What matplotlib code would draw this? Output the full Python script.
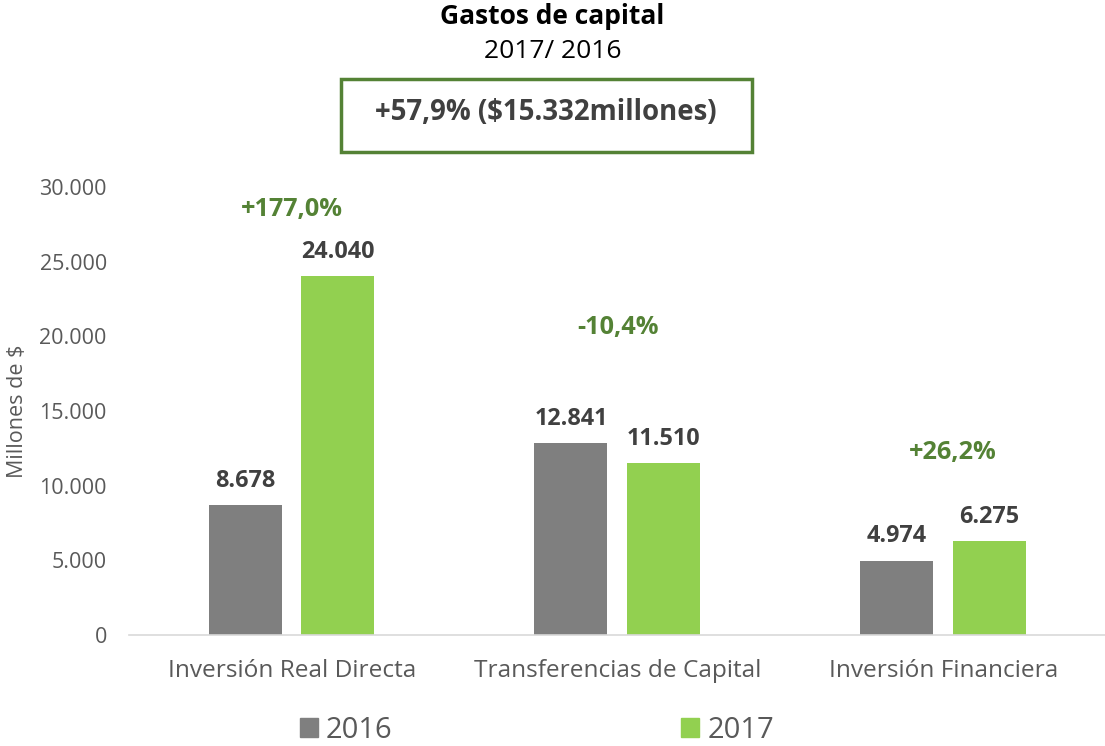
import matplotlib.pyplot as plt
import numpy as np
from matplotlib.patches import Patch, Rectangle

plt.rcParams["font.family"] = ["Open Sans", "DejaVu Sans"]

categorias = ["Inversión Real Directa", "Transferencias de Capital", "Inversión Financiera"]
valores_2016 = [8678, 12841, 4974]
valores_2017 = [24040, 11510, 6275]
variaciones = ["+177,0%", "-10,4%", "+26,2%"]
pos_variacion = [28460, 20560, 12190]
etiquetas_y = ["0", "5.000", "10.000", "15.000", "20.000", "25.000", "30.000"]

gris = "#7f7f7f"
verde = "#92d050"
verde_osc = "#548235"
texto = "#595959"
oscuro = "#404040"


def miles(v):
    return f"{v:,}".replace(",", ".")


fig = plt.figure(figsize=(11.05, 7.46), dpi=100)
ax = fig.add_axes([129 / 1105, 1 - 635 / 746, (1106 - 129) / 1105, (635 - 187) / 746])

x = np.arange(len(categorias))
ancho = 0.224
b1 = ax.bar(x - 0.143, valores_2016, ancho, color=gris)
b2 = ax.bar(x + 0.141, valores_2017, ancho, color=verde)

for barras, vals in ((b1, valores_2016), (b2, valores_2017)):
    for b, v in zip(barras, vals):
        ax.annotate(miles(v), (b.get_x() + b.get_width() / 2, v), xytext=(0, 9),
                    textcoords="offset points", ha="center", va="bottom",
                    fontsize=16.8, fontweight="bold", color=oscuro)

for i, (t, y) in enumerate(zip(variaciones, pos_variacion)):
    ax.text(x[i] + (0.03 if i == 2 else 0.0), y, t, ha="center", va="center",
            fontsize=18.2, fontweight="bold", color=verde_osc, clip_on=False)

ax.set_xlim(-0.5, 2.5)
ax.set_ylim(0, 30000)
ax.set_yticks(range(0, 30001, 5000))
ax.set_yticklabels(etiquetas_y)
ax.set_xticks(x)
ax.set_xticklabels(categorias)
ax.tick_params(axis="both", length=0, colors=texto)
ax.tick_params(axis="y", labelsize=15.5, pad=16)
ax.tick_params(axis="x", labelsize=17.6, pad=17)
for s in ("top", "right", "left"):
    ax.spines[s].set_visible(False)
ax.spines["bottom"].set_color("#d9d9d9")
ax.spines["bottom"].set_linewidth(1.2)
ax.set_ylabel("Millones de $", fontsize=15.5, color=texto)
ax.yaxis.set_label_coords(-0.103, 0.5)

fig.text(0.5, 1 - 17 / 746, "Gastos de capital", ha="center", va="center",
         fontsize=19, fontweight="bold", color="black")
fig.text(0.5, 1 - 51 / 746, "2017/ 2016", ha="center", va="center",
         fontsize=19, color="black")
fig.patches.append(Rectangle((341 / 1105, 1 - 152 / 746), (752 - 341) / 1105, (152 - 79) / 746,
                             transform=fig.transFigure, fill=False, edgecolor=verde_osc,
                             linewidth=2.5))
fig.text(546 / 1105, 1 - 113 / 746, "+57,9% ($15.332millones)", ha="center", va="center",
         fontsize=19.9, fontweight="bold", color=oscuro)

handles = [Patch(color=gris, label="2016"), Patch(color=verde, label="2017")]
leg = fig.legend(handles=handles, loc="center", bbox_to_anchor=(0.486, 1 - 730 / 746), ncol=2,
                 frameon=False, fontsize=21, handlelength=0.62, handleheight=0.62,
                 handletextpad=0.28, columnspacing=9.9)
for t in leg.get_texts():
    t.set_color(texto)

fig.savefig("out.png", dpi=100)
